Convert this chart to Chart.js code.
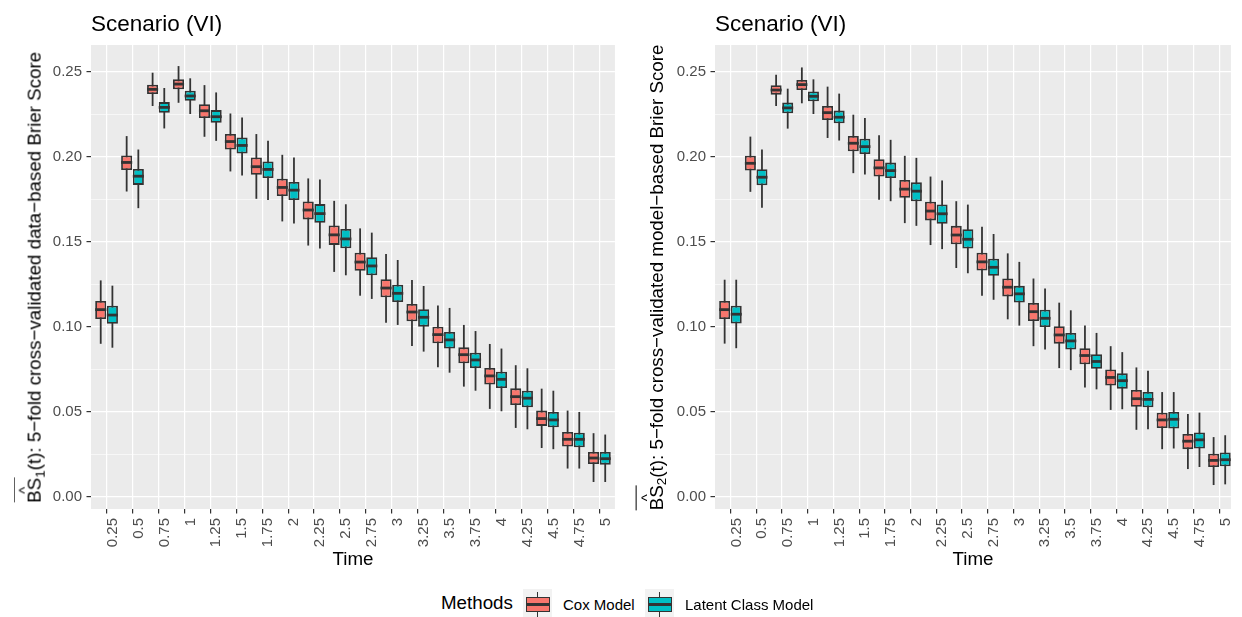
<!DOCTYPE html>
<html>
<head>
<meta charset="utf-8">
<script src="https://cdn.jsdelivr.net/npm/chart.js@4.4.1/dist/chart.umd.min.js"></script>
<style>
  body { margin: 0; background: #fff; width: 1242px; height: 617px; overflow: hidden; position: relative;
         font-family: "Liberation Sans", Arial, Helvetica, sans-serif; color: #000; }
  canvas { position: absolute; top: 0; }
  #c1 { left: 0; }
  #c2 { left: 624px; }
  .title { position: absolute; top: 13px; font-size: 22.5px; line-height: 1; white-space: nowrap; }
  .ylab { position: absolute; width: 560px; height: 18.75px; font-size: 18.75px; line-height: 1; text-align: center;
          white-space: nowrap; transform: rotate(-90deg); top: 267.6px; }
  .ylab sub { font-size: 0.72em; vertical-align: -0.28em; line-height: 0; }
  .bs { position: relative; display: inline-block; }
  .bs .hat { position: absolute; left: 50%; transform: translateX(-50%); top: -0.62em; font-size: 0.8em; line-height: 1; }
  .bs .ovl { position: absolute; left: 0; right: 0; top: -0.62em; border-top: 1.1px solid #000; }
  .leg { position: absolute; line-height: 1; white-space: nowrap; }
  .key { position: absolute; top: 589px; width: 29px; height: 28px; background: #F2F2F2; }
  .key .wh { position: absolute; left: 13.5px; top: 3px; bottom: 0; width: 1.8px; background: #333; }
  .key .bx { position: absolute; left: 3px; right: 2px; top: 8px; height: 15px; box-sizing: border-box; border: 1.8px solid #333; }
  .key .md { position: absolute; left: 3px; right: 2px; top: 14px; height: 2.8px; background: #333; }
</style>
</head>
<body>
<canvas id="c1" width="622" height="580"></canvas>
<canvas id="c2" width="618" height="580"></canvas>

<div class="title" style="left:91px">Scenario (VI)</div>
<div class="title" style="left:715px">Scenario (VI)</div>

<div class="ylab" style="left:-244.8px"><span class="bs"><span class="ovl"></span><span class="hat">^</span>BS</span><sub>1</sub>(t): 5−fold cross−validated data−based Brier Score</div>
<div class="ylab" style="left:376.5px"><span class="bs"><span class="ovl"></span><span class="hat">^</span>BS</span><sub>2</sub>(t): 5−fold cross−validated model−based Brier Score</div>

<div class="leg" style="left:441px;top:594px;font-size:18.75px">Methods</div>
<div class="key" style="left:523px"><div class="wh"></div><div class="bx" style="background:#F8766D"></div><div class="md"></div></div>
<div class="leg" style="left:563px;top:597px;font-size:15px">Cox Model</div>
<div class="key" style="left:645px"><div class="wh"></div><div class="bx" style="background:#00BFC4"></div><div class="md"></div></div>
<div class="leg" style="left:685px;top:597px;font-size:15px">Latent Class Model</div>

<script>
const times = [0.25, 0.5, 0.75, 1, 1.25, 1.5, 1.75, 2, 2.25, 2.5, 2.75, 3, 3.25, 3.5, 3.75, 4, 4.25, 4.5, 4.75, 5];
const timeLabels = ["0.25", "0.5", "0.75", "1", "1.25", "1.5", "1.75", "2", "2.25", "2.5",
                    "2.75", "3", "3.25", "3.5", "3.75", "4", "4.25", "4.5", "4.75", "5"];
const yGrid = [0, 0.025, 0.05, 0.075, 0.1, 0.125, 0.15, 0.175, 0.2, 0.225, 0.25];
const yLabels = ["0.00", "0.05", "0.10", "0.15", "0.20", "0.25"];

// panel 1: data-based Brier score
const p1CoxMax = [0.1274, 0.2123, 0.2496, 0.2535, 0.2423, 0.2256, 0.2135, 0.2013, 0.1874, 0.1742, 0.1580, 0.1429, 0.1276, 0.1127, 0.1012, 0.0900, 0.0775, 0.0637, 0.0508, 0.0375];
const p1CoxQ3  = [0.1153, 0.2009, 0.2425, 0.2457, 0.2311, 0.2135, 0.1997, 0.1872, 0.1738, 0.1597, 0.1437, 0.1281, 0.1135, 0.1002, 0.0880, 0.0759, 0.0639, 0.0508, 0.0382, 0.0265];
const p1CoxMed = [0.1102, 0.1968, 0.2398, 0.2429, 0.2272, 0.2091, 0.1943, 0.1821, 0.1688, 0.1542, 0.1382, 0.1229, 0.1088, 0.0955, 0.0837, 0.0712, 0.0590, 0.0461, 0.0339, 0.0229];
const p1CoxQ1  = [0.1047, 0.1923, 0.2370, 0.2398, 0.2229, 0.2044, 0.1895, 0.1770, 0.1633, 0.1483, 0.1331, 0.1175, 0.1033, 0.0904, 0.0786, 0.0661, 0.0541, 0.0418, 0.0296, 0.0194];
const p1CoxMin = [0.0901, 0.1797, 0.2300, 0.2319, 0.2119, 0.1915, 0.1754, 0.1621, 0.1479, 0.1324, 0.1184, 0.1025, 0.0888, 0.0763, 0.0649, 0.0518, 0.0406, 0.0288, 0.0167, 0.0088];

const p1LcmMax = [0.1243, 0.2044, 0.2406, 0.2463, 0.2380, 0.2233, 0.2095, 0.1997, 0.1868, 0.1722, 0.1555, 0.1394, 0.1241, 0.1112, 0.0976, 0.0873, 0.0757, 0.0625, 0.0500, 0.0367];
const p1LcmQ3  = [0.1125, 0.1930, 0.2323, 0.2390, 0.2276, 0.2115, 0.1974, 0.1853, 0.1723, 0.1577, 0.1410, 0.1249, 0.1104, 0.0971, 0.0849, 0.0737, 0.0625, 0.0500, 0.0378, 0.0265];
const p1LcmMed = [0.1070, 0.1887, 0.2292, 0.2359, 0.2237, 0.2068, 0.1927, 0.1805, 0.1667, 0.1518, 0.1359, 0.1198, 0.1057, 0.0924, 0.0806, 0.0692, 0.0581, 0.0453, 0.0339, 0.0225];
const p1LcmQ1  = [0.1019, 0.1836, 0.2260, 0.2331, 0.2201, 0.2021, 0.1876, 0.1747, 0.1613, 0.1463, 0.1304, 0.1147, 0.1002, 0.0873, 0.0759, 0.0641, 0.0528, 0.0410, 0.0292, 0.0190];
const p1LcmMin = [0.0878, 0.1699, 0.2168, 0.2253, 0.2095, 0.1891, 0.1747, 0.1609, 0.1461, 0.1304, 0.1165, 0.1012, 0.0855, 0.0731, 0.0625, 0.0504, 0.0398, 0.0281, 0.0167, 0.0088];

// panel 2: model-based Brier score
const p2CoxMax = [0.1278, 0.2120, 0.2484, 0.2527, 0.2414, 0.2249, 0.2128, 0.2007, 0.1885, 0.1740, 0.1590, 0.1433, 0.1285, 0.1143, 0.1008, 0.0887, 0.0762, 0.0617, 0.0488, 0.0352];
const p2CoxQ3  = [0.1153, 0.2007, 0.2422, 0.2453, 0.2300, 0.2124, 0.1987, 0.1865, 0.1737, 0.1595, 0.1437, 0.1285, 0.1141, 0.1004, 0.0875, 0.0750, 0.0629, 0.0496, 0.0371, 0.0254];
const p2CoxMed = [0.1102, 0.1963, 0.2394, 0.2426, 0.2261, 0.2081, 0.1936, 0.1811, 0.1682, 0.1541, 0.1383, 0.1234, 0.1090, 0.0953, 0.0832, 0.0703, 0.0578, 0.0453, 0.0328, 0.0215];
const p2CoxQ1  = [0.1047, 0.1920, 0.2367, 0.2394, 0.2218, 0.2034, 0.1885, 0.1760, 0.1627, 0.1486, 0.1332, 0.1180, 0.1035, 0.0902, 0.0781, 0.0656, 0.0531, 0.0406, 0.0281, 0.0176];
const p2CoxMin = [0.0902, 0.1795, 0.2300, 0.2316, 0.2112, 0.1905, 0.1748, 0.1611, 0.1482, 0.1347, 0.1183, 0.1045, 0.0887, 0.0758, 0.0644, 0.0512, 0.0395, 0.0281, 0.0164, 0.0070];

const p2LcmMax = [0.1278, 0.2044, 0.2402, 0.2457, 0.2373, 0.2230, 0.2101, 0.1995, 0.1862, 0.1720, 0.1547, 0.1383, 0.1227, 0.1098, 0.0965, 0.0852, 0.0742, 0.0617, 0.0496, 0.0363];
const p2LcmQ3  = [0.1125, 0.1928, 0.2320, 0.2386, 0.2273, 0.2108, 0.1967, 0.1851, 0.1721, 0.1575, 0.1402, 0.1242, 0.1101, 0.0965, 0.0840, 0.0727, 0.0617, 0.0500, 0.0379, 0.0262];
const p2LcmMed = [0.1075, 0.1881, 0.2289, 0.2357, 0.2234, 0.2061, 0.1920, 0.1799, 0.1666, 0.1516, 0.1351, 0.1195, 0.1051, 0.0918, 0.0797, 0.0684, 0.0574, 0.0457, 0.0336, 0.0219];
const p2LcmQ1  = [0.1020, 0.1834, 0.2257, 0.2328, 0.2198, 0.2018, 0.1876, 0.1740, 0.1607, 0.1461, 0.1301, 0.1144, 0.1000, 0.0867, 0.0754, 0.0637, 0.0527, 0.0402, 0.0285, 0.0180];
const p2LcmMin = [0.0875, 0.1701, 0.2167, 0.2253, 0.2097, 0.1897, 0.1740, 0.1595, 0.1458, 0.1316, 0.1160, 0.1008, 0.0867, 0.0746, 0.0633, 0.0516, 0.0398, 0.0285, 0.0176, 0.0074];

const COX_FILL = "#F8766D";
const LCM_FILL = "#00BFC4";
const INK = "#333333";
const PANEL_BG = "#EBEBEB";

Chart.defaults.font.family = '"Liberation Sans", Arial, Helvetica, sans-serif';

// whiskers go under the boxes, medians on top
const boxParts = {
  id: "boxParts",
  beforeDraw(chart) {
    const { ctx, chartArea: a } = chart;
    ctx.save();
    ctx.fillStyle = PANEL_BG;
    ctx.fillRect(a.left, a.top, a.right - a.left, a.bottom - a.top);
    ctx.restore();
  },
  beforeDatasetsDraw(chart) {
    const { ctx } = chart;
    const y = chart.scales.y;
    ctx.save();
    ctx.strokeStyle = INK;
    ctx.lineWidth = 1.8;
    chart.data.datasets.forEach((ds, di) => {
      chart.getDatasetMeta(di).data.forEach((bar, i) => {
        ctx.beginPath();
        ctx.moveTo(bar.x, y.getPixelForValue(ds.lo[i]));
        ctx.lineTo(bar.x, y.getPixelForValue(ds.hi[i]));
        ctx.stroke();
      });
    });
    ctx.restore();
  },
  afterDatasetsDraw(chart) {
    const { ctx } = chart;
    const y = chart.scales.y;
    ctx.save();
    ctx.strokeStyle = INK;
    ctx.lineWidth = 2.8;
    chart.data.datasets.forEach((ds, di) => {
      chart.getDatasetMeta(di).data.forEach((bar, i) => {
        const py = y.getPixelForValue(ds.med[i]);
        ctx.beginPath();
        ctx.moveTo(bar.x - bar.width / 2, py);
        ctx.lineTo(bar.x + bar.width / 2, py);
        ctx.stroke();
      });
    });
    ctx.restore();
  },
};

function boxDataset(label, fill, lo, q1, med, q3, hi) {
  return {
    label,
    data: times.map((t, i) => ({ x: t, y: [q1[i], q3[i]] })),
    lo,
    med,
    hi,
    backgroundColor: fill,
    borderColor: INK,
    borderWidth: 1.8,
    borderSkipped: false,
    categoryPercentage: 0.9,
    barPercentage: 0.95,
  };
}

function makePanel(canvasId, datasets, xMax) {
  return new Chart(document.getElementById(canvasId), {
    type: "bar",
    data: { datasets },
    options: {
      responsive: false,
      animation: false,
      layout: { padding: { top: 45, right: 4, left: 0, bottom: 0 } },
      plugins: {
        legend: { display: false },
        tooltip: { enabled: false },
      },
      scales: {
        x: {
          type: "linear",
          min: 0.1,
          max: xMax,
          offset: false,
          afterBuildTicks(axis) {
            axis.ticks = times.map((v) => ({ value: v }));
          },
          afterFit(axis) {
            axis.height = 71;
          },
          ticks: {
            autoSkip: false,
            maxRotation: 90,
            minRotation: 90,
            padding: 4.5,
            labelOffset: 6,
            color: "#4D4D4D",
            font: { size: 15 },
            callback: (v, i) => timeLabels[i],
          },
          grid: {
            offset: false,
            color: "#FFFFFF",
            lineWidth: 1.2,
            tickColor: INK,
            tickLength: 4.5,
            tickWidth: 1.2,
          },
          border: { display: false },
          title: {
            display: true,
            text: "Time",
            color: "#000",
            font: { size: 18.75 },
            padding: { top: 0, bottom: 8.75 },
          },
        },
        y: {
          min: -0.0071,
          max: 0.2659,
          afterBuildTicks(axis) {
            axis.ticks = yGrid.map((v) => ({ value: v }));
          },
          afterFit(axis) {
            axis.width = 91;
          },
          ticks: {
            padding: 4.5,
            color: "#4D4D4D",
            font: { size: 15 },
            callback: (v, i) => (i % 2 === 0 ? yLabels[i / 2] : ""),
          },
          grid: {
            color: "#FFFFFF",
            lineWidth: (ctx) => (ctx.index % 2 === 0 ? 1.2 : 0.6),
            tickColor: (ctx) => (ctx.index % 2 === 0 ? INK : "rgba(0,0,0,0)"),
            tickLength: 4.5,
            tickWidth: 1.2,
          },
          border: { display: false },
        },
      },
    },
    plugins: [boxParts],
  });
}

makePanel("c1", [
  boxDataset("Cox Model", COX_FILL, p1CoxMin, p1CoxQ1, p1CoxMed, p1CoxQ3, p1CoxMax),
  boxDataset("Latent Class Model", LCM_FILL, p1LcmMin, p1LcmQ1, p1LcmMed, p1LcmQ3, p1LcmMax),
], 5.15);

makePanel("c2", [
  boxDataset("Cox Model", COX_FILL, p2CoxMin, p2CoxQ1, p2CoxMed, p2CoxQ3, p2CoxMax),
  boxDataset("Latent Class Model", LCM_FILL, p2LcmMin, p2LcmQ1, p2LcmMed, p2LcmQ3, p2LcmMax),
], 5.112);
</script>
</body>
</html>
